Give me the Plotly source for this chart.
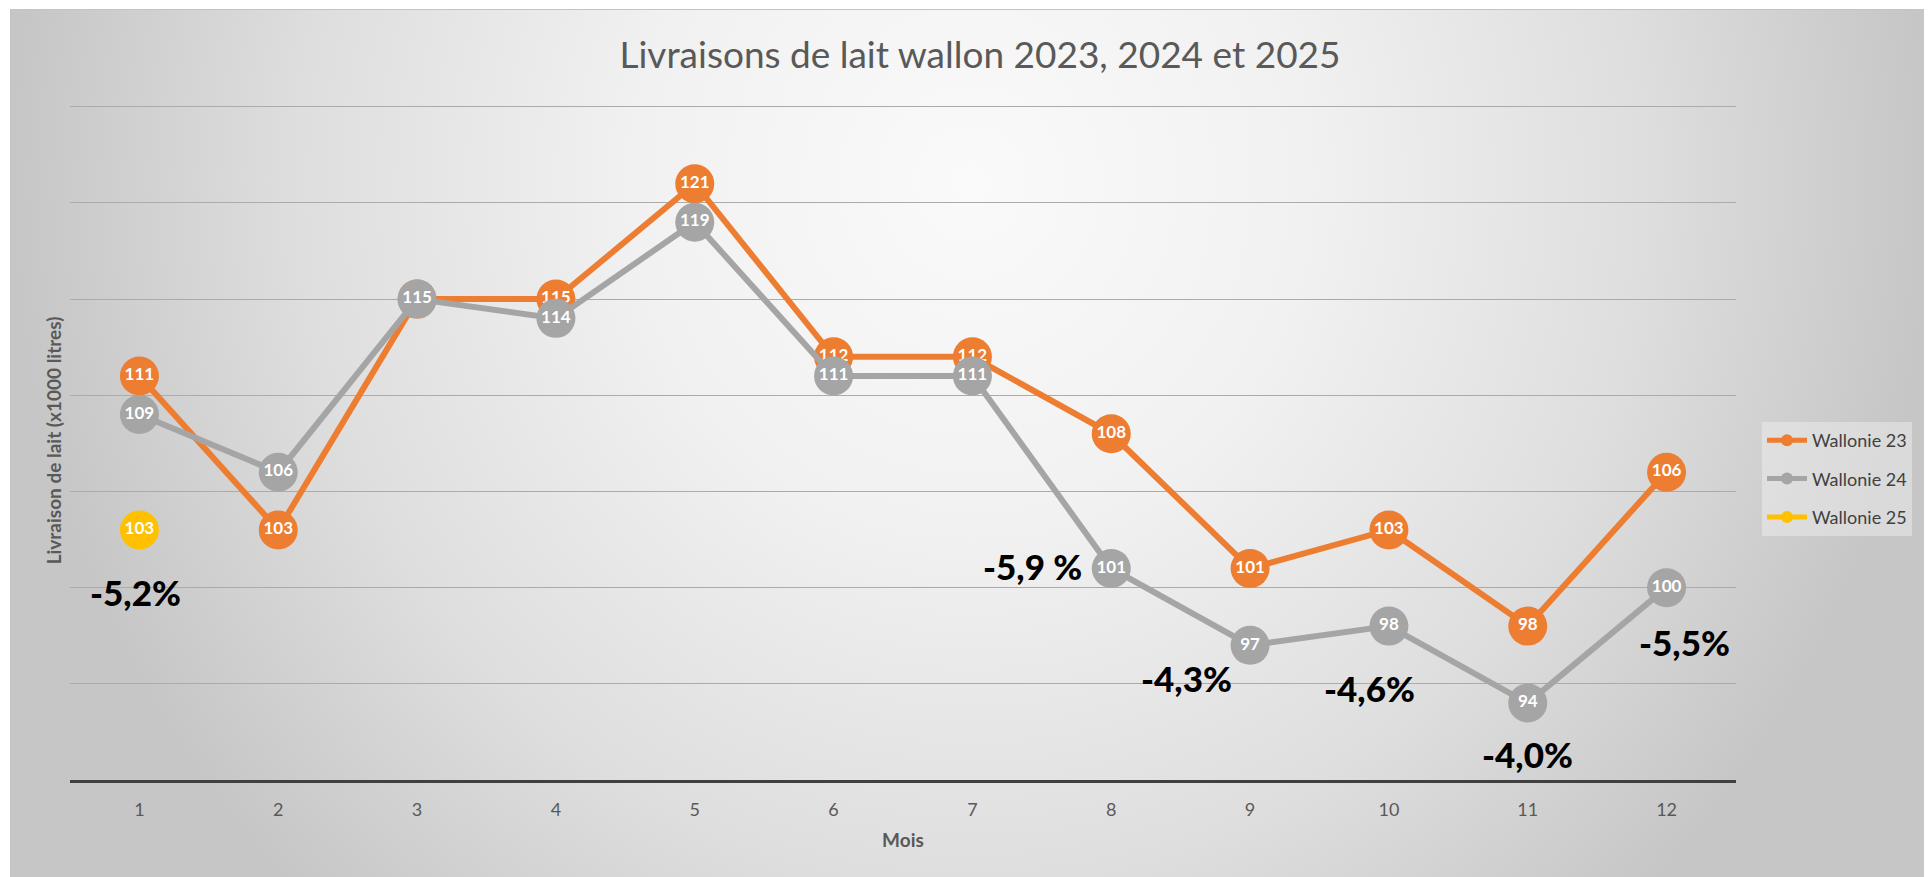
import base64
import plotly.graph_objects as go

months = list(range(1, 13))
wallonie_23 = [111, 103, 115, 115, 121, 112, 112, 108, 101, 103, 98, 106]
wallonie_24 = [109, 106, 115, 114, 119, 111, 111, 101, 97, 98, 94, 100]
months_25 = [1]
wallonie_25 = [103]

pct_labels = ["-5,2%", "-5,9 %", "-4,3%", "-4,6%", "-4,0%", "-5,5%"]
pct_x = [0.97, 7.43, 8.54, 9.86, 11.0, 12.13]
pct_y = [99.8, 101.1, 95.3, 94.8, 91.35, 97.2]

# page has an 8px body margin, so the figure is shifted by 8px
W, H = 1924, 869
ML, MR, MT, MB = 62, 196, 93, 97
PW, PH = W - ML - MR, H - MT - MB

svg = '''<svg xmlns="http://www.w3.org/2000/svg" width="1922" height="868" viewBox="0 0 1922 868" preserveAspectRatio="none">
<defs><radialGradient id="g" cx="0.5" cy="0.2" r="0.5" gradientTransform="translate(0.5,0.2) scale(1,2.3) translate(-0.5,-0.2)">
<stop offset="0" stop-color="#fafafa"/><stop offset="0.35" stop-color="#f1f1f1"/>
<stop offset="0.7" stop-color="#dedede"/><stop offset="1" stop-color="#c6c6c6"/></radialGradient></defs>
<rect x="0" y="0" width="1922" height="868" fill="url(#g)"/>
<line x1="0" y1="0.5" x2="1922" y2="0.5" stroke="#c4c4c4" stroke-width="1"/>
<line x1="0.5" y1="0" x2="0.5" y2="868" stroke="#c4c4c4" stroke-width="1"/>
</svg>'''
bg_uri = "data:image/svg+xml;base64," + base64.b64encode(svg.encode()).decode()

ORANGE = "#ED7D31"
GRAY = "#A5A5A5"
YELLOW = "#FFC000"
label_font = dict(family="Lato", size=17, color="white", weight="bold")

fig = go.Figure()
for name, xs, ys, col in [("Wallonie 23", months, wallonie_23, ORANGE),
                          ("Wallonie 24", months, wallonie_24, GRAY),
                          ("Wallonie 25", months_25, wallonie_25, YELLOW)]:
    fig.add_trace(go.Scatter(
        x=xs, y=ys, name=name, legendgroup=name,
        mode="lines+markers+text",
        line=dict(color=col, width=6),
        marker=dict(color=col, size=39, line=dict(width=0)),
        text=[str(v) for v in ys], textposition="middle center",
        textfont=label_font, hoverinfo="skip"))

for t, x, y in zip(pct_labels, pct_x, pct_y):
    fig.add_annotation(x=x, y=y, text=t, showarrow=False,
                       font=dict(family="Lato", size=35, color="black", weight=900),
                       xanchor="center", yanchor="middle")

fig.add_layout_image(dict(
    source=bg_uri, xref="paper", yref="paper",
    x=(2 - ML) / PW, y=(H - MB - 1) / PH,
    sizex=1922 / PW, sizey=868 / PH,
    xanchor="left", yanchor="top", sizing="stretch", layer="below"))

fig.update_layout(
    width=W, height=H,
    margin=dict(l=ML, r=MR, t=MT, b=MB),
    paper_bgcolor="white", plot_bgcolor="rgba(0,0,0,0)",
    title=dict(text="Livraisons de lait wallon 2023, 2024 et 2025",
               font=dict(family="Lato", size=37, color="#595959"),
               x=972 / W, xanchor="center", xref="container",
               y=1 - 47 / H, yanchor="middle", yref="container"),
    showlegend=True,
    legend=dict(x=(1754 - ML) / PW, xanchor="left", y=(H - MB - 414) / PH, yanchor="top",
                bgcolor="rgba(242,242,242,0.45)", borderwidth=0,
                font=dict(family="Lato", size=18, color="#404040"),
                itemsizing="constant", tracegroupgap=12, traceorder="grouped",
                itemwidth=40),
    xaxis=dict(range=[0.5, 12.5], tickmode="array", tickvals=months,
               ticktext=[str(m) for m in months], showgrid=False, zeroline=False,
               showline=True, linecolor="#404040", linewidth=3,
               ticks="", ticklabelstandoff=11,
               tickfont=dict(family="Lato", size=18, color="#595959"),
               title=dict(text="Mois", standoff=16,
                          font=dict(family="Lato", size=19, color="#595959", weight="bold"))),
    yaxis=dict(range=[90, 125.3], dtick=5, tick0=90, showticklabels=False,
               showgrid=True, gridcolor="#ababab", gridwidth=1, zeroline=False,
               ticks="", showline=False,
               title=dict(text="Livraison de lait (x1000 litres)", standoff=2,
                          font=dict(family="Lato", size=19, color="#595959", weight="bold"))),
)

fig.write_html("out.html")
